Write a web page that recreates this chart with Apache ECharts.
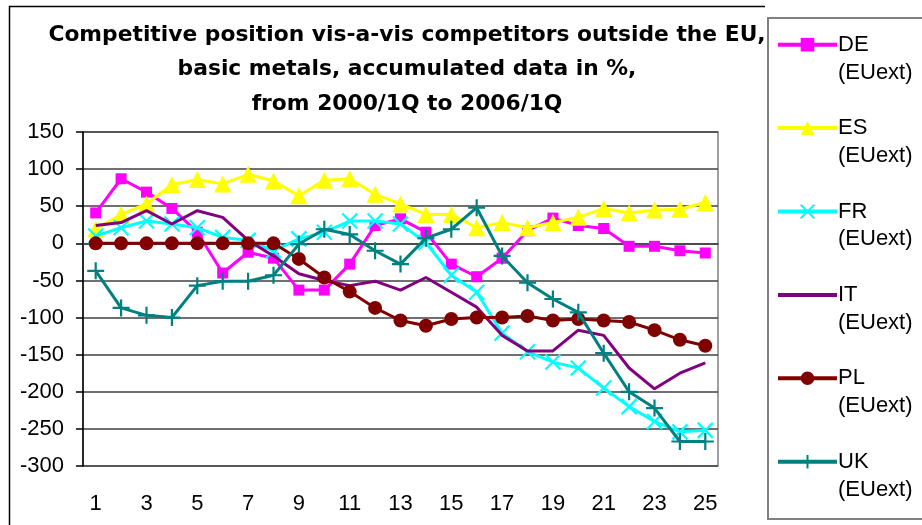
<!DOCTYPE html>
<html>
<head>
<meta charset="utf-8">
<script src="https://cdn.jsdelivr.net/npm/echarts@6/dist/echarts.min.js"></script>
<style>
html,body{margin:0;padding:0;background:#fff;}
#chart{width:922px;height:525px;}
</style>
</head>
<body>
<div id="chart"></div>
<script>
const categories = ['1','2','3','4','5','6','7','8','9','10','11','12','13','14','15','16','17','18','19','20','21','22','23','24','25'];
const yTicks = [-300, 150, 50];
const seriesNames = ['DE', 'ES', 'FR', 'IT', 'PL', 'UK'];
const legendSuffix = '(EUext)';
const titleLines = ['Competitive position vis-a-vis competitors outside the EU,', 'basic metals, accumulated data in %,', 'from 2000/1Q to 2006/1Q'];

const DE = [41, 87, 69, 47, 15, -40, -12, -20, -63, -63, -28, 24, 33, 15, -28, -45, -20, 17, 34, 24, 20, -4, -4, -10, -13];
const ES = [19, 39, 53, 79, 86, 80, 93, 84, 64, 85, 87, 66, 53, 39, 39, 21, 28, 21, 28, 35, 47, 41, 45, 46, 55];
const FR = [10, 21, 30, 26, 21, 8, 4, -10, 6, 15, 30, 30, 26, 1, -43, -66, -121, -146, -160, -168, -195, -220, -240, -254, -252];
const IT = [24, 28, 44, 26, 44, 35, 4, -17, -41, -50, -57, -51, -63, -46, -66, -86, -124, -145, -145, -117, -124, -168, -196, -175, -161];
const PL = [0, 0, 0, 0, 0, 0, 0, 0, -21, -46, -65, -87, -104, -111, -102, -100, -100, -98, -104, -102, -104, -106, -117, -130, -138];
const UK = [-37, -87, -97, -100, -57, -51, -51, -43, -1, 19, 12, -10, -28, 7, 19, 48, -17, -53, -75, -93, -148, -200, -222, -267, -267];

const values = [DE, ES, FR, IT, PL, UK];
const colors = ['#FF00FF', '#FFFF00', '#00FFFF', '#800080', '#800000', '#008080'];
const symbols = ['rect', 'triangle', 'path://M0,0L10,10M10,0L0,10', 'none', 'circle', 'path://M5,0L5,10M0,5L10,5'];
const symbolSizes = [11, 17, 15, 0, 14, 17];
const strokeSymbol = [false, false, true, false, false, true];
const axisFont = "'Liberation Sans', Arial, sans-serif";

const chart = echarts.init(document.getElementById('chart'), null, {renderer: 'canvas'});

const series = seriesNames.map((n, i) => ({
  name: n,
  type: 'line',
  data: values[i],
  symbol: symbols[i],
  symbolSize: symbolSizes[i],
  showSymbol: symbols[i] !== 'none',
  showAllSymbol: true,
  lineStyle: {color: colors[i], width: 3},
  itemStyle: strokeSymbol[i]
    ? {color: colors[i], borderColor: colors[i], borderWidth: 2.2}
    : {color: colors[i], borderWidth: 0},
  emphasis: {disabled: true},
  z: 2 + i
}));

const legendData = seriesNames.map((n, i) => symbols[i] === 'none'
  ? {name: n, itemStyle: {color: 'rgba(0,0,0,0)', borderColor: 'rgba(0,0,0,0)', borderWidth: 0}}
  : {name: n});

chart.setOption({
  animation: false,
  backgroundColor: '#ffffff',
  title: {
    text: titleLines.join('\n'),
    left: 402,
    top: 13,
    textAlign: 'center',
    textStyle: {
      fontFamily: 'DejaVu Sans',
      fontWeight: 'bold',
      fontSize: 21.8,
      lineHeight: 34.5,
      color: '#000'
    }
  },
  legend: {
    orient: 'vertical',
    left: 776,
    top: 3,
    padding: 0,
    itemGap: 0,
    itemWidth: 59,
    itemHeight: 17,
    data: legendData,
    lineStyle: {width: 4},
    formatter: n => '\n' + n + '\n' + legendSuffix,
    textStyle: {
      fontFamily: axisFont,
      fontSize: 22,
      lineHeight: 27.8,
      color: '#000',
      padding: [0, 0, 0, -4]
    }
  },
  grid: {
    left: 83, right: 204, top: 132, bottom: 59,
    show: true, borderColor: '#808080', borderWidth: 1.5
  },
  xAxis: {
    type: 'category',
    data: categories,
    boundaryGap: true,
    axisLine: {show: true, lineStyle: {color: '#404040', width: 1.5}},
    axisTick: {show: false},
    axisLabel: {
      interval: 1,
      margin: 27,
      fontFamily: axisFont,
      fontSize: 22,
      color: '#000'
    },
    splitLine: {show: false}
  },
  yAxis: {
    type: 'value',
    min: yTicks[0],
    max: yTicks[1],
    interval: yTicks[2],
    axisLine: {show: true, lineStyle: {color: '#000', width: 1.5}},
    axisTick: {show: true, length: 7, lineStyle: {color: '#000', width: 1.5}},
    axisLabel: {
      margin: 19,
      fontFamily: axisFont,
      fontSize: 22,
      color: '#000'
    },
    splitLine: {show: true, lineStyle: {color: '#404040', width: 1.5}}
  },
  graphic: [
    {
      type: 'polyline',
      shape: {points: [[9.5, 525], [9.5, 6.5], [765, 6.5]]},
      style: {stroke: '#000', lineWidth: 1.5, fill: null},
      silent: true
    },
    {
      type: 'rect',
      shape: {x: 768, y: 18, width: 170, height: 501},
      style: {stroke: '#808080', lineWidth: 2, fill: null},
      silent: true
    }
  ],
  series: series
});
</script>
</body>
</html>
